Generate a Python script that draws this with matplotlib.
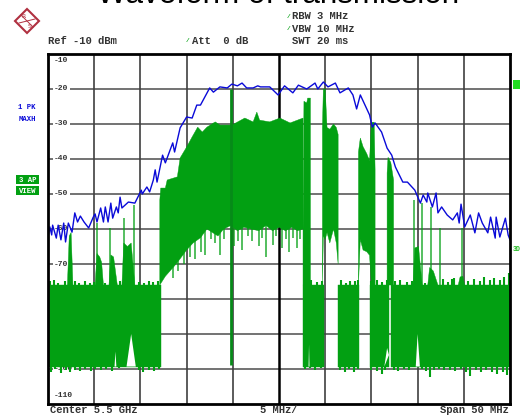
import matplotlib
matplotlib.use("Agg")
import matplotlib.pyplot as plt
from matplotlib.patches import Polygon, Rectangle

# ---------- data (MHz offset from centre, dBm) ----------
blue_f = [-25.0,-24.8,-24.6,-24.5,-24.1,-23.9,-23.6,-23.3,-23.1,-22.8,-22.4,-22.1,-21.8,-21.5,-21.1,-20.6,-20.1,-19.9,-19.7,-19.3,
          -19.0,-18.8,-18.5,-18.2,-18.0,-17.6,-17.4,-17.2,-17.0,-16.3,-15.6,-14.9,-14.8,-14.3,-14.0,-13.6,-13.4,-13.2,-12.6,-12.3,
          -11.5,-11.3,-10.7,-10.0,-9.4,-8.9,-8.5,-7.5,-7.1,-6.4,-5.6,-5.1,-4.5,-4.0,-3.5,-2.8,-2.3,-2.0,-1.0,-0.1,
          0.6,1.5,2.1,3.0,3.9,4.2,4.8,5.3,6.1,6.6,7.5,8.0,8.4,8.8,9.8,10.1,10.4,11.1,11.7,12.2,
          12.6,13.4,13.9,14.7,15.3,15.6,16.0,16.1,16.6,17.0,17.2,17.6,18.2,18.8,19.3,19.5,19.7,20.1,20.7,21.2,
          21.6,22.0,22.6,22.9,23.4,23.5,23.9,24.5,24.8,25.0]
blue_l = [-62.3,-59.4,-61.7,-58.9,-62.6,-58.9,-63.1,-58.3,-63.7,-58.3,-60.9,-55.4,-58.0,-56.3,-58.0,-59.7,-56.6,-55.7,-58.0,-54.0,
          -58.0,-53.7,-58.0,-52.6,-56.9,-53.7,-55.4,-50.9,-54.0,-52.3,-52.6,-48.9,-50.0,-48.0,-49.4,-46.0,-43.1,-46.6,-38.9,-41.1,
          -35.4,-38.0,-31.1,-28.0,-28.3,-24.6,-24.6,-19.7,-20.9,-19.4,-19.7,-18.6,-19.1,-18.3,-19.7,-19.7,-19.1,-19.4,-19.4,-21.7,
          -19.1,-21.1,-18.9,-20.0,-18.3,-20.0,-18.0,-19.4,-18.3,-21.1,-19.7,-21.7,-25.7,-21.7,-27.4,-30.9,-29.7,-32.3,-36.9,-38.9,
          -42.3,-46.6,-46.6,-48.9,-52.6,-50.3,-52.3,-49.7,-53.7,-49.7,-55.4,-53.7,-56.0,-57.4,-55.4,-58.3,-52.9,-59.4,-56.0,-61.1,
          -55.4,-58.3,-61.1,-56.6,-62.6,-56.6,-62.3,-56.9,-61.7,-63.1]

main_top_f = [-12.9,-12.8,-12.3,-12.1,-11.0,-10.7,-10.0,-9.4,-8.8,-8.3,-7.8,-6.9,-6.4,-5.1,-3.7,-2.8,-2.4,-2.1,-1.0,0.1,1.2,2.6]
main_top_l = [-51.7,-48.3,-48.3,-46.0,-45.1,-39.7,-36.6,-33.7,-30.9,-32.3,-30.9,-29.4,-30.3,-30.3,-28.3,-29.4,-26.6,-28.9,-29.4,-28.3,-29.7,-28.3]
main_low_f = [-12.9,-12.3,-11.8,-11.3,-10.7,-10.0,-9.3,-8.5,-7.8,-7.2,-6.6,-6.0,-5.2,-4.5,-3.8,-3.0,-2.2,-1.4,-0.7,0.0,0.7,1.4,2.0,2.6]
main_low_l = [-76.0,-73.5,-72.0,-70.5,-68.5,-66.0,-64.0,-62.5,-60.0,-61.0,-62.0,-60.0,-59.0,-60.5,-59.5,-60.0,-60.5,-59.0,-60.5,-59.5,-60.5,-59.5,-60.5,-60.0]
tail_f = [-11.5,-10.9,-10.3,-9.6,-9.1,-8.4,-8.0,-7.4,-6.9,-6.4,-5.9,-4.9,-4.4,-4.0,-3.4,-2.9,-2.2,-1.8,-1.4,-0.7,-0.3,0.3,0.8,1.1,1.5,1.9,2.3]
tail_b = [-74.0,-72.0,-70.0,-68.0,-68.5,-66.5,-67.5,-63.0,-64.0,-67.4,-63.0,-65.0,-63.5,-66.0,-62.0,-63.5,-65.0,-62.5,-68.0,-64.5,-62.0,-65.5,-63.0,-66.6,-62.5,-65.4,-63.0]

floor_f = [[-25.0,-12.8],[2.6,4.9],[6.4,8.7],[9.8,11.9],[12.1,25.0]]
floor_top = -76.0
floor_bottom = -99.3
fuzz_top_f = [-24.8,-24.3,-23.9,-23.2,-22.7,-22.1,-21.6,-21.0,-20.5,-20.0,-19.3,-18.8,-18.1,-17.6,-17.2,-16.5,-15.9,-15.2,-14.6,-14.1,-13.6,-13.1,
              2.9,3.5,4.1,4.6,6.7,7.2,7.7,8.2,8.5,10.0,10.6,11.2,11.7,
              12.5,13.1,13.9,14.4,15.8,16.9,17.8,18.3,18.7,18.9,20.5,21.1,21.7,22.2,22.8,23.3,23.9,24.4,24.9]
fuzz_top_l = [-75.0,-74.6,-75.3,-74.8,-75.4,-75.0,-75.3,-74.9,-75.5,-75.2,-74.9,-75.3,-74.7,-75.4,-75.0,-75.2,-74.6,-75.1,-75.3,-74.9,-75.2,-75.0,
              -75.0,-74.6,-75.2,-74.8,-74.7,-75.3,-74.8,-75.0,-74.7,-75.0,-74.5,-75.1,-74.6,
              -75.0,-74.6,-75.2,-74.8,-75.3,-74.9,-74.2,-75.1,-74.4,-73.9,-74.9,-74.2,-74.8,-73.8,-74.6,-74.0,-74.7,-73.6,-72.5]
fuzz_bot_f = [-24.7,-24.2,-23.6,-23.1,-22.6,-22.1,-21.5,-21.0,-20.4,-19.9,-19.3,-18.7,-18.1,-17.3,-15.2,-14.7,-14.1,-13.5,-13.0,
              2.8,3.4,3.9,4.5,6.6,7.1,7.6,8.1,8.5,10.0,10.6,11.1,11.5,
              12.4,12.9,13.5,14.1,15.5,15.9,16.3,16.8,17.3,17.9,18.5,19.1,19.7,20.2,20.7,21.3,21.9,22.4,23.0,23.6,24.2,24.7]
fuzz_bot_l = [-100.8,-100.0,-101.2,-100.4,-100.9,-100.2,-100.6,-100.0,-100.5,-99.9,-100.4,-100.0,-100.5,-99.8,-100.4,-100.9,-100.2,-100.5,-100.0,
              -100.0,-99.6,-100.2,-99.7,-100.2,-100.9,-100.1,-100.8,-100.0,-100.2,-100.5,-101.4,-100.3,
              -100.2,-100.6,-100.1,-100.4,-100.0,-100.6,-102.3,-100.2,-100.0,-100.4,-100.2,-100.7,-100.0,-100.9,-102.0,-100.4,-100.9,-100.2,-101.0,-101.5,-100.8,-101.8]
notch_f = [-17.8,-17.7,-17.6, -16.5,-16.0,-15.5, 3.2,3.25,3.3, 11.4,11.7,11.9, 14.8,15.0,15.25]
notch_b = [-99.3,-95.0,-99.3, -99.3,-90.0,-99.3, -99.3,-93.0,-99.3, -99.3,-94.0,-96.0, -99.3,-90.0,-99.3]

burst1_f = [2.6,2.7,3.0,3.1,3.4]
burst1_t = [-60.0,-23.5,-24.0,-22.6,-22.6]
burst2_f = [4.7,4.8,5.0,5.2,5.5,5.9,6.2,6.4]
burst2_t = [-31.0,-20.0,-20.0,-31.0,-31.5,-30.0,-31.0,-33.0]
burst2_b = [-76.0,-62.0,-63.0,-61.0,-64.0,-60.0,-64.0,-70.0]
burst3_f = [8.6,8.8,9.1,9.5,9.8,10.0,10.3,10.4]
burst3_t = [-38.0,-34.0,-36.5,-38.5,-40.5,-29.5,-29.5,-43.0]
burst3_b = [-76.0,-63.0,-66.0,-66.5,-67.5,-76.0,-76.0,-76.0]
burst4_f = [11.7,11.8,12.1,12.4]
burst4_t = [-44.0,-39.5,-41.0,-46.0]

side_bursts_f = [[-22.9,-22.7,-22.5,-22.3],[-19.9,-19.7,-19.4,-19.2,-19.0],[-18.4,-18.2,-17.9,-17.5],[-17.0,-16.8,-16.4,-16.0,-15.6],
                 [14.5,14.7,15.1,15.5],[16.1,16.3,16.7,17.2],[19.4,19.6,19.9,20.1]]
side_bursts_t = [[-76.0,-62.0,-61.0,-76.0],[-76.0,-67.0,-68.0,-69.5,-76.0],[-76.0,-67.4,-68.0,-76.0],[-76.0,-64.0,-65.0,-64.0,-76.0],
                 [-76.0,-65.4,-65.0,-76.0],[-76.0,-71.0,-72.0,-76.0],[-76.0,-73.7,-73.5,-76.0]]

spike_f = [-19.7,-18.3,-16.8,-15.7,14.6,15.5,16.4,17.4,19.8]
spike_t = [-58.3,-59.7,-56.9,-53.1,-51.7,-52.6,-53.7,-59.7,-59.7]
centre_spike_f = [-5.2]
centre_spike_t = [-20.0]
centre_spike_b = [-99.0]

db_ticks = [-10,-20,-30,-40,-50,-60,-70,-80,-90,-100,-110]
db_label_pos = [-12.0,-20,-30,-40,-50,-60,-70,-80,-90,-100,-107.5]
mhz_ticks = [-20,-15,-10,-5,0,5,10,15,20]

GREEN = "#02a012"
BLUE = "#0a0ad8"
GRID = "#5a5a5a"
MONO = "Liberation Mono"

fig = plt.figure(figsize=(5.2, 4.15), dpi=100, facecolor="white")
ax = fig.add_axes([48/520, 11/415, 462/520, 350/415])
ax.set_xlim(-25, 25)
ax.set_ylim(-110, -10)
ax.set_xticks([]); ax.set_yticks([])
for s in ax.spines.values():
    s.set_linewidth(2.0); s.set_color("black"); s.set_zorder(10)

for d in db_ticks[1:-1]:
    ax.plot([-25, 25], [d, d], color=GRID, lw=1.2, zorder=1, solid_capstyle="butt")
for m in mhz_ticks:
    c, w = ("black", 1.8) if m == 0 else ("#404040", 1.2)
    ax.plot([m, m], [-110, -10], color=c, lw=w, zorder=1, solid_capstyle="butt")

for d, p in zip(db_ticks, db_label_pos):
    ax.text(-24.35, p, str(d), family=MONO, weight="bold", fontsize=5.8, color="#333333",
            ha="left", va="center", zorder=2,
            bbox=dict(fc="white", ec="none", pad=1.0))

def band(xt, top, xb, bot):
    ax.fill(list(xt) + list(xb)[::-1], list(top) + list(bot)[::-1],
            color=GREEN, lw=0.3, zorder=3)

band(main_top_f, main_top_l, main_low_f, main_low_l)
ax.vlines(tail_f, tail_b, -58, color=GREEN, lw=1.2, alpha=0.8, zorder=3)
for a, b in floor_f:
    band([a, b], [floor_top, floor_top], [a, b], [floor_bottom, floor_bottom])
ax.vlines(fuzz_top_f, floor_top, fuzz_top_l, color=GREEN, lw=1.5, zorder=3)
ax.vlines(fuzz_bot_f, fuzz_bot_l, floor_bottom, color=GREEN, lw=1.5, zorder=3)
band(burst1_f, burst1_t, burst1_f, [-76.0]*len(burst1_f))
band(burst2_f, burst2_t, burst2_f, burst2_b)
band(burst3_f, burst3_t, burst3_f, burst3_b)
band(burst4_f, burst4_t, burst4_f, [-76.0]*len(burst4_f))
for f, t in zip(side_bursts_f, side_bursts_t):
    band(f, t, f, [-77.0]*len(f))
ax.vlines(spike_f, -76, spike_t, color=GREEN, lw=1.1, alpha=0.85, zorder=3)
ax.vlines(centre_spike_f, centre_spike_b, centre_spike_t, color="#068a18", lw=2.0, zorder=3)
# white gaps cut into the underside of the noise floor
for i in range(0, len(notch_f), 3):
    ax.fill(notch_f[i:i+3], notch_b[i:i+3], color="white", lw=0, zorder=3.5)
ax.plot(blue_f, blue_l, color=BLUE, lw=1.0, zorder=5)

# ---------- annotation layer in pixel coordinates ----------
ov = fig.add_axes([0, 0, 1, 1], zorder=20)
ov.set_xlim(0, 520); ov.set_ylim(415, 0); ov.axis("off"); ov.patch.set_alpha(0)

def label(x, y, s, color="#333333", size=7.6, ha="left"):
    ov.text(x, y, s, family=MONO, weight="bold", fontsize=size, color=color, ha=ha, va="center")

ov.text(278, 3, "Waveform of transmission", family="Liberation Sans", fontsize=22.6,
        color="black", ha="center", va="baseline", clip_on=False)
label(48, 41, "Ref -10 dBm")
label(192, 41, "Att  0 dB")
label(292, 16, "RBW 3 MHz")
label(292, 29, "VBW 10 MHz")
label(292, 41, "SWT 20 ms")
for x, y in [(186, 41), (287, 16), (287, 29)]:
    label(x, y, "/", color=GREEN, size=4.5)
label(50, 410, "Center 5.5 GHz")
label(260, 410, "5 MHz/")
label(440, 410, "Span 50 MHz")
label(27, 107, "1 PK", color=BLUE, size=5.2, ha="center")
label(27, 119, "MAXH", color=BLUE, size=5.2, ha="center")
ov.add_patch(Rectangle((16, 175), 23, 9.5, fc=GREEN, ec="none"))
ov.add_patch(Rectangle((16, 186), 23, 9.5, fc=GREEN, ec="none"))
label(27.5, 180, "3 AP", color="white", size=5.2, ha="center")
label(27.5, 191, "VIEW", color="white", size=5.2, ha="center")
ov.add_patch(Rectangle((513, 80), 7, 9, fc="#22dd22", ec="none"))
label(513, 249, "3D", color="#22bb22", size=4.8)

RED = "#b03040"
ov.add_patch(Polygon([(27, 9), (39, 21), (27, 33), (15, 21)], closed=True, fc="white", ec=RED, lw=1.5))
ov.plot([21, 33], [15, 27], color=RED, lw=0.7)
ov.plot([19, 35], [23, 19], color=RED, lw=0.7)
ov.text(24, 17, "R", color=RED, fontsize=4.5, ha="center", va="center")
ov.text(30, 26, "S", color=RED, fontsize=4.5, ha="center", va="center")

fig.savefig("out.png", dpi=100, facecolor="white")
